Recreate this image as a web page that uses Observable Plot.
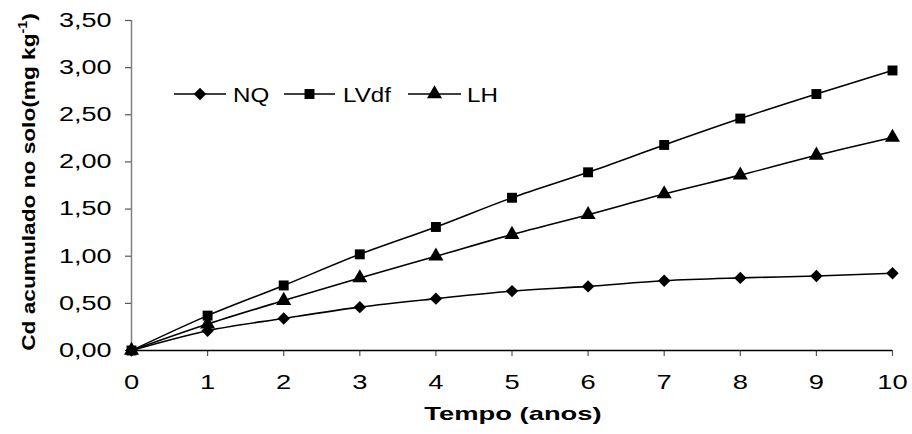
<!DOCTYPE html>
<html>
<head>
<meta charset="utf-8">
<script src="https://cdn.jsdelivr.net/npm/d3@7"></script>
<script src="https://cdn.jsdelivr.net/npm/@observablehq/plot@0.6"></script>
<style>
  html, body { margin: 0; padding: 0; background: #fff; }
  #chart { position: relative; width: 912px; height: 434px; }
</style>
</head>
<body>
<div id="chart"></div>
<script>
// ---- data ----
const years = [0, 1, 2, 3, 4, 5, 6, 7, 8, 9, 10];
const nq   = [0, 0.21, 0.34, 0.46, 0.55, 0.63, 0.68, 0.74, 0.77, 0.79, 0.82];
const lvdf = [0, 0.37, 0.69, 1.02, 1.31, 1.62, 1.89, 2.18, 2.46, 2.72, 2.97];
const lh   = [0, 0.28, 0.53, 0.77, 1.00, 1.23, 1.44, 1.66, 1.86, 2.07, 2.26];
const seriesNames = ["NQ", "LVdf", "LH"];
const seriesSymbols = ["diamond2", "square", "triangle"];
const xTicks = [0, 1, 2, 3, 4, 5, 6, 7, 8, 9, 10];
const yTicks = [0, 0.5, 1, 1.5, 2, 2.5, 3, 3.5];
const xTitle = "Tempo (anos)";
const yTitleMain = "Cd acumulado no solo(mg kg";
const yTitleSup = "-1";
const yTitleEnd = ")";

const seriesValues = [nq, lvdf, lh];
const data = seriesNames.flatMap((s, i) =>
  years.map((t, j) => ({ serie: s, t, v: seriesValues[i][j] }))
);

const FONT = "'Liberation Sans', Arial, Helvetica, sans-serif";
const fmt = d => d.toFixed(2).replace(".", ",");

const svgNode = Plot.plot({
  width: 912,
  height: 434,
  marginLeft: 131,
  marginRight: 20,
  marginTop: 20,
  marginBottom: 84,
  style: { fontFamily: FONT, background: "white", color: "black", overflow: "visible" },
  x: { domain: [0, 10] },
  y: { domain: [0, 3.5] },
  symbol: { domain: seriesNames, range: seriesSymbols },
  marks: [
    Plot.ruleX([0], { stroke: "#808080", strokeWidth: 1.5 }),
    Plot.axisY({ ticks: yTicks, tickSize: 6, tickPadding: 14, fontSize: 20, label: null,
                 tickFormat: fmt, stroke: "#555", strokeWidth: 1.2 }),
    Plot.axisX({ ticks: xTicks, tickSize: 6, tickPadding: 18, fontSize: 21, label: null,
                 stroke: "#555", strokeWidth: 1.2 }),
    Plot.ruleY([0], { stroke: "black", strokeWidth: 1.5 }),
    Plot.line(data, { x: "t", y: "v", z: "serie", stroke: "black", strokeWidth: 1.6, curve: "monotone-x" }),
    Plot.dot(data, { x: "t", y: "v", symbol: "serie", fill: "black", stroke: "none", r: 5.6 })
  ]
});

document.getElementById("chart").appendChild(svgNode);
const svg = d3.select(svgNode);

// widen text like the reference
function stretch(sel, factor) {
  sel.each(function () {
    const w = this.getComputedTextLength();
    this.setAttribute("textLength", (w * factor).toFixed(1));
    this.setAttribute("lengthAdjust", "spacingAndGlyphs");
  });
}
stretch(svg.selectAll('g[aria-label="y-axis tick label"] text'), 1.35);
stretch(svg.selectAll('g[aria-label="x-axis tick label"] text'), 1.3);

// x title
const xt = svg.append("text")
  .attr("x", 513).attr("y", 420)
  .attr("text-anchor", "middle")
  .attr("font-family", FONT).attr("font-weight", "bold").attr("font-size", 19)
  .attr("fill", "black")
  .text(xTitle);
stretch(xt, 1.44);

// y title with superscript
const yt = svg.append("text")
  .attr("text-anchor", "middle")
  .attr("font-family", FONT).attr("font-weight", "bold").attr("font-size", 19)
  .attr("fill", "black");
yt.append("tspan").text(yTitleMain);
yt.append("tspan").attr("font-size", 12).attr("dy", -8).text(yTitleSup);
yt.append("tspan").attr("dy", 8).text(yTitleEnd);
const ytLen = yt.node().getComputedTextLength();
const ySx = 338 / ytLen;
yt.attr("transform", `translate(35,182) rotate(-90) scale(${ySx},1)`);

// legend (line + marker + label)
const legendItems = [
  { name: seriesNames[0], sym: d3.symbolDiamond2, x0: 174, x1: 226, tx: 233 },
  { name: seriesNames[1], sym: d3.symbolSquare,   x0: 284, x1: 335, tx: 343 },
  { name: seriesNames[2], sym: d3.symbolTriangle, x0: 408, x1: 461, tx: 467 }
];
const ly = 94;
const lg = svg.append("g").attr("aria-label", "legend");
legendItems.forEach(it => {
  lg.append("line").attr("x1", it.x0).attr("x2", it.x1).attr("y1", ly).attr("y2", ly)
    .attr("stroke", "black").attr("stroke-width", 1.6);
  lg.append("path")
    .attr("d", d3.symbol(it.sym, Math.PI * 5.6 * 5.6)())
    .attr("transform", `translate(${(it.x0 + it.x1) / 2},${ly})`)
    .attr("fill", "black");
  const t = lg.append("text").attr("x", it.tx).attr("y", ly).attr("dy", "0.36em")
    .attr("text-anchor", "start")
    .attr("font-family", FONT).attr("font-size", 21).attr("fill", "black")
    .text(it.name);
  stretch(t, 1.15);
});
</script>
</body>
</html>
